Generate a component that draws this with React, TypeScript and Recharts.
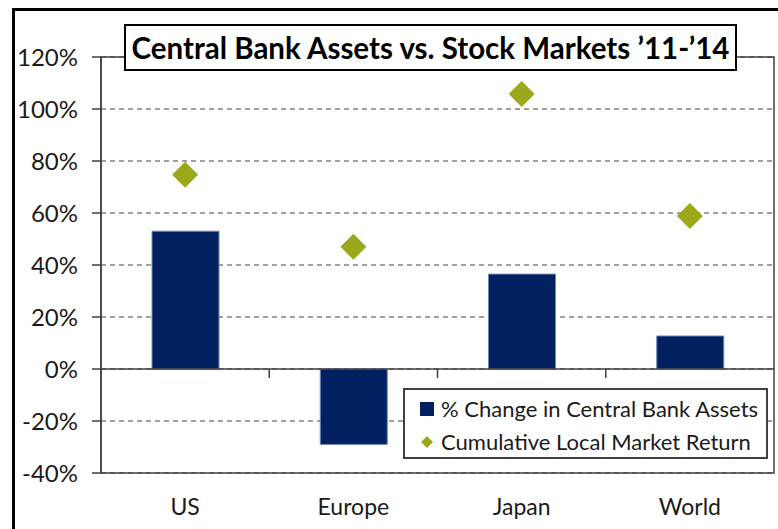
import React from 'react';
import {
  ComposedChart,
  Bar,
  Line,
  XAxis,
  YAxis,
  CartesianGrid,
  ReferenceLine,
  ReferenceArea,
} from 'recharts';

const categories = ['US', 'Europe', 'Japan', 'World'];
const centralBankAssets = [53, -29, 36.5, 12.7];
const marketReturn = [74.7, 47, 105.8, 58.8];
const yTicks = [-40, -20, 0, 20, 40, 60, 80, 100, 120];

const seriesNames = {
  assets: '% Change in Central Bank Assets',
  market: 'Cumulative Local Market Return',
};

const data = categories.map((name, i) => ({
  name,
  assets: centralBankAssets[i],
  market: marketReturn[i],
}));

const BAR_COLOR = '#002060';
const DIAMOND_COLOR = '#9BA81C';
const AXIS_COLOR = '#404040';
const FONT = 'Lato, "Open Sans", sans-serif';

const Diamond = (props: any) => {
  const { cx, cy, index } = props;
  if (cx == null || cy == null) return null;
  const h = 13;
  return (
    <polygon
      key={`d-${index}`}
      points={`${cx},${cy - h} ${cx + h},${cy} ${cx},${cy + h} ${cx - h},${cy}`}
      fill={DIAMOND_COLOR}
    />
  );
};

const ZeroLine = (props: any) => {
  const { x1, y1, x2, y2 } = props;
  const n = categories.length;
  const step = (x2 - x1) / n;
  const marks = [];
  for (let k = 1; k < n; k++) {
    const x = x1 + step * k;
    marks.push(<line key={k} x1={x} y1={y1} x2={x} y2={y1 + 9} stroke={AXIS_COLOR} strokeWidth={1.5} />);
  }
  return (
    <g>
      <line x1={x1} y1={y1} x2={x2} y2={y2} stroke={AXIS_COLOR} strokeWidth={1.5} />
      {marks}
    </g>
  );
};

const legendItems = [
  { name: seriesNames.assets, type: 'square' },
  { name: seriesNames.market, type: 'diamond' },
];

const LegendBox = () => (
  <div
    style={{
      position: 'absolute',
      left: 403,
      top: 388,
      border: `2px solid ${AXIS_COLOR}`,
      background: '#fff',
      boxSizing: 'border-box',
      width: 365,
      height: 71,
      padding: '2px 0 0 13px',
      fontFamily: FONT,
      fontSize: 22,
      color: '#1a1a1a',
      lineHeight: '33px',
    }}
  >
    {legendItems.map((p) => (
      <div key={p.name} style={{ display: 'flex', alignItems: 'center', whiteSpace: 'nowrap' }}>
        <svg width={20} height={20} style={{ marginRight: 3 }}>
          {p.type === 'square' ? (
            <rect x={2} y={3} width={14} height={14} fill={BAR_COLOR} />
          ) : (
            <polygon points="9,4 15,10 9,16 3,10" fill={DIAMOND_COLOR} />
          )}
        </svg>
        <span>{p.name}</span>
      </div>
    ))}
  </div>
);

export default function App() {
  return (
    <div style={{ position: 'absolute', left: 0, top: 0, width: 778, height: 529, overflow: 'hidden', background: '#fff' }}>
      <div
        style={{
          position: 'absolute',
          left: 12,
          top: 8,
          width: 800,
          height: 600,
          border: '3px solid #000',
          boxSizing: 'border-box',
        }}
      />
      <div style={{ position: 'absolute', left: 0, top: 0 }}>
        <ComposedChart
          width={778}
          height={529}
          data={data}
          margin={{ top: 57, right: 4, bottom: 0, left: 0 }}
          style={{ fontFamily: FONT }}
        >
          <CartesianGrid vertical={false} stroke={AXIS_COLOR} strokeDasharray="5 4" strokeWidth={1.2} />
          <XAxis
            dataKey="name"
            height={56}
            axisLine={false}
            tickLine={false}
            tickMargin={20}
            tick={{ fill: '#1a1a1a', fontSize: 23 }}
          />
          <YAxis
            domain={[-40, 120]}
            ticks={yTicks}
            interval={0}
            width={101}
            tickFormatter={(v: number) => `${v}%`}
            axisLine={{ stroke: AXIS_COLOR, strokeWidth: 1.5 }}
            tickLine={{ stroke: AXIS_COLOR, strokeWidth: 1.5 }}
            tickSize={9}
            tickMargin={14}
            tick={{ fill: '#1a1a1a', fontSize: 24 }}
          />
          <ReferenceArea y1={-40} y2={120} fill="none" stroke={AXIS_COLOR} strokeWidth={1.5} ifOverflow="extendDomain" />
          <ReferenceLine y={0} shape={ZeroLine} />
          <Bar
            dataKey="assets"
            name={seriesNames.assets}
            fill={BAR_COLOR}
            stroke="#6f86b8"
            strokeWidth={1}
            barSize={67}
            isAnimationActive={false}
          />
          <Line
            dataKey="market"
            name={seriesNames.market}
            stroke="none"
            dot={Diamond}
            activeDot={false}
            isAnimationActive={false}
          />
        </ComposedChart>
      </div>
      <LegendBox />
      <div
        style={{
          position: 'absolute',
          left: 124,
          top: 24,
          width: 613,
          height: 47,
          border: '2px solid #000',
          boxSizing: 'border-box',
          background: '#fff',
          fontFamily: FONT,
          fontWeight: 700,
          fontSize: 29.5,
          color: '#000',
          display: 'flex',
          alignItems: 'center',
          justifyContent: 'center',
          whiteSpace: 'nowrap',
        }}
      >
        Central Bank Assets vs. Stock Markets ’11-’14
      </div>
    </div>
  );
}
